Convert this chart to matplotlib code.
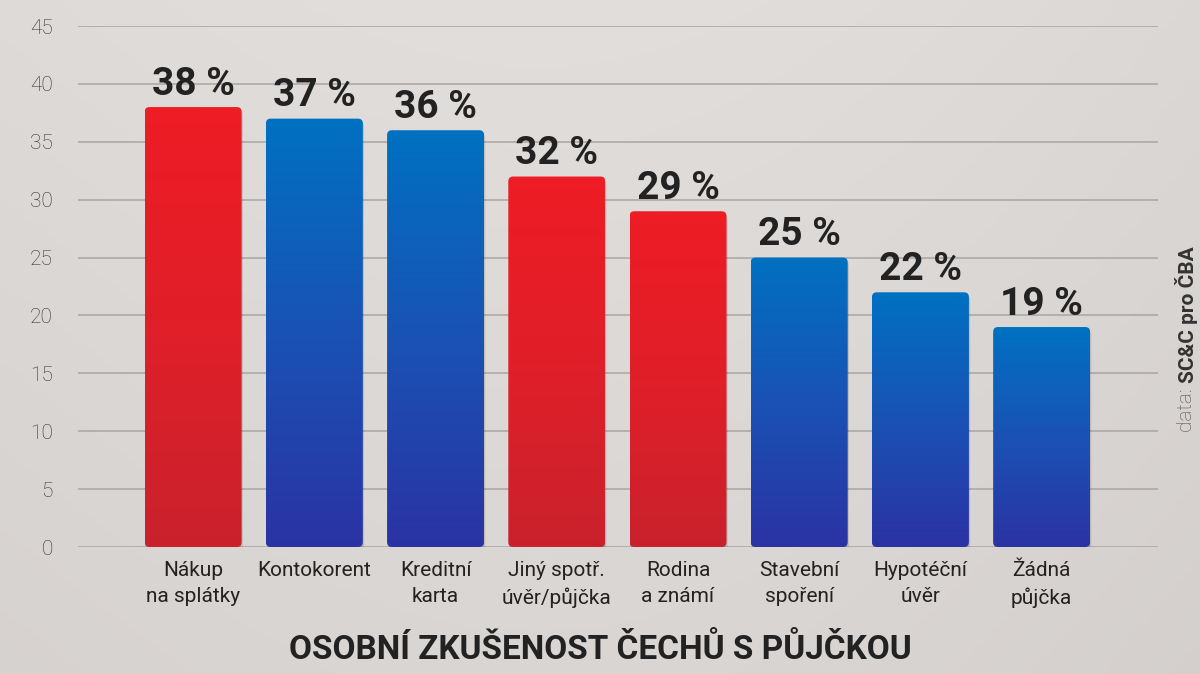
import matplotlib
matplotlib.use("Agg")
import matplotlib.pyplot as plt
import numpy as np
from matplotlib.patches import FancyBboxPatch
from matplotlib.colors import LinearSegmentedColormap

# data
categories = ["Nákup\nna splátky", "Kontokorent", "Kreditní\nkarta", "Jiný spotř.\núvěr/půjčka",
              "Rodina\na známí", "Stavební\nspoření", "Hypotéční\núvěr", "Žádná\npůjčka"]
values = [38, 37, 36, 32, 29, 25, 22, 19]
kinds = ["red", "blue", "blue", "red", "red", "blue", "blue", "blue"]
yticks = list(range(0, 50, 5))

plt.rcParams['font.family'] = ['Roboto', 'DejaVu Sans']

grad = {
    "red": LinearSegmentedColormap.from_list("r", ["#c9222d", "#e01f29", "#ee1c25"]),
    "blue": LinearSegmentedColormap.from_list("b", ["#2b33a3", "#1a52b4", "#0071c1"]),
}

fig = plt.figure(figsize=(12, 6.74), dpi=100)

# background
bg = fig.add_axes([0, 0, 1, 1], zorder=-10)
yy, xx = np.mgrid[0:1:200j, 0:1:300j]
shade = 0.55 + 0.25 * (1 - yy) + 0.15 * np.sin(xx * 3.0) - 0.1 * xx
bgcmap = LinearSegmentedColormap.from_list("bg", ["#cfcac7", "#e4e1df"])
bg.imshow(shade, cmap=bgcmap, aspect="auto", extent=[0, 1, 0, 1], vmin=0.3, vmax=1.0)
bg.axis("off")

ax = fig.add_axes([0.065, 0.1884, 0.9, 0.773])
ax.patch.set_alpha(0)
for s in ax.spines.values():
    s.set_visible(False)

x = np.arange(len(values))
bars = ax.bar(x, values, width=0.8, color="none", zorder=3)

ax.set_yticks(yticks)
ax.grid(axis="y", color="#a8a5a3", lw=1.1, zorder=0)
ax.tick_params(axis="y", length=0, pad=18, labelsize=15, labelcolor="#333333")
ax.tick_params(axis="x", length=0, pad=10)
for lbl in ax.get_yticklabels():
    lbl.set_fontweight("light")
ax.set_xticks(x)
ax.set_xticklabels(categories, fontsize=15, color="#222222", linespacing=1.45)

grad_img = np.linspace(0, 1, 256).reshape(-1, 1)
for b, k, v in zip(bars, kinds, values):
    x0, w, h = b.get_x(), b.get_width(), b.get_height()
    # soft shadow
    sh = FancyBboxPatch((x0 + 0.01, -0.25), w, h, boxstyle="round,pad=0,rounding_size=0.04",
                        mutation_aspect=10.5, fc="#000000", ec="none", alpha=0.12, zorder=2)
    ax.add_patch(sh)
    clip = FancyBboxPatch((x0, 0), w, h, boxstyle="round,pad=0,rounding_size=0.04",
                          mutation_aspect=10.5, fc="none", ec="none", zorder=3)
    ax.add_patch(clip)
    im = ax.imshow(grad_img, cmap=grad[k], origin="lower", aspect="auto",
                   extent=[x0, x0 + w, 0, h], zorder=3)
    im.set_clip_path(clip)
    ax.annotate(f"{v} %", (b.get_x() + w / 2, h), xytext=(0, 3), textcoords="offset points",
                ha="center", va="bottom", fontsize=28, fontweight="bold", color="#222222", zorder=4)

ax.set_xlim(-0.95, 7.96)
ax.set_ylim(0, 45)

fig.text(0.5, 0.035, "OSOBNÍ ZKUŠENOST ČECHŮ S PŮJČKOU", ha="center", va="center",
         fontsize=24, fontweight="bold", color="#222222")

t1 = fig.text(0.989, 1 - 432 / 674, "data: ", rotation=90, ha="center", va="bottom",
              fontsize=15, fontweight="light", color="#555555")
ax.annotate("SC&C pro ČBA", xy=(0.5, 1), xycoords=t1, ha="center", va="bottom", rotation=90,
            fontsize=15, fontweight="bold", color="#333333", annotation_clip=False)

fig.savefig("out.png", dpi=100)
